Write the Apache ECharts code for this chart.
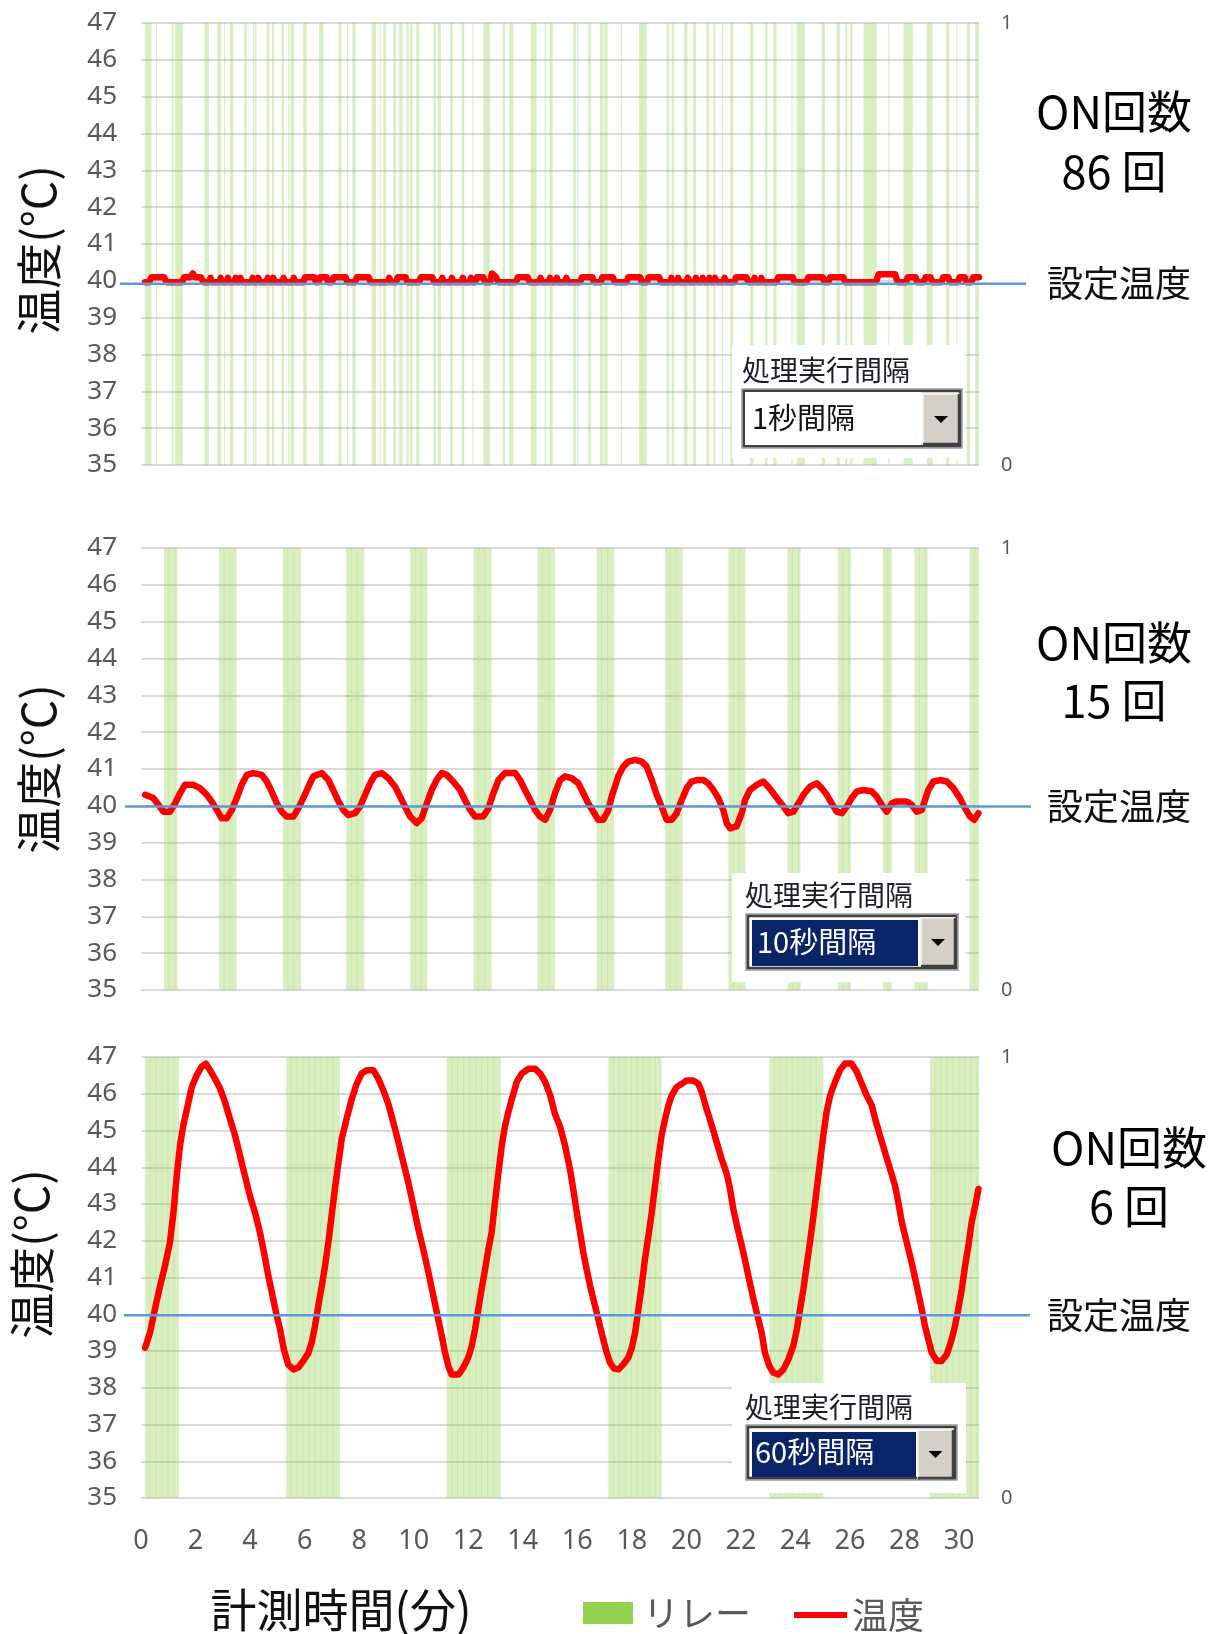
<!DOCTYPE html>
<html><head><meta charset="utf-8">
<script src="https://cdn.jsdelivr.net/npm/echarts@6/dist/echarts.min.js"></script>
<style>html,body{margin:0;padding:0;background:#fff}#c{width:1211px;height:1634px}</style>
</head><body><div id="c"></div>
<script>
// ---------------- DATA ----------------
const xTicks = [0,2,4,6,8,10,12,14,16,18,20,22,24,26,28,30];
const yTicks = [35,36,37,38,39,40,41,42,43,44,45,46,47];
const relayTicks = [0,1];
const xEnd = 30.73;
const onCounts = ['86','15','6'];
const intervalLabels = ['1秒間隔','10秒間隔','60秒間隔'];
const setLine = [39.92, 39.98, 39.97];

// relay ON periods [start min, end min]
const p1Relay = [[0.15,0.39],[1.12,1.19],[1.25,1.53],[2.32,2.49],[2.80,2.93],[3.26,3.39],[3.79,3.88],[4.10,4.16],[4.18,4.24],[4.61,4.71],[4.80,4.88],[5.16,5.24],[5.49,5.61],[5.95,6.08],[6.53,6.69],[7.24,7.36],[7.75,7.87],[8.46,8.62],[8.89,8.99],[9.25,9.35],[9.47,9.60],[9.74,9.82],[9.87,9.96],[10.09,10.20],[10.72,10.81],[10.88,11.00],[11.33,11.43],[11.76,11.85],[12.56,12.80],[13.26,13.35],[13.51,13.66],[14.29,14.51],[14.98,15.10],[15.85,15.95],[16.00,16.05],[16.40,16.50],[16.83,16.95],[16.99,17.11],[18.26,18.54],[19.28,19.37],[19.46,19.55],[19.91,20.04],[20.25,20.35],[20.74,20.83],[20.99,21.06],[21.60,21.72],[22.33,22.46],[22.88,22.97],[23.19,23.31],[24.04,24.35],[24.96,25.08],[25.51,25.63],[25.82,25.90],[26.00,26.09],[26.49,26.98],[27.96,28.30],[28.81,29.03],[29.52,29.64],[30.28,30.40],[30.59,30.73],
  [0.55,0.58],[3.05,3.08],[5.40,5.43],[7.55,7.58],[8.75,8.78],[12.15,12.18],[14.80,14.83],[17.60,17.63],[21.30,21.33],[23.85,23.88],[27.40,27.43],[29.90,29.93]];
const p2Relay = [[0.84,1.34],[2.86,3.51],[5.20,5.87],[7.52,8.19],[9.87,10.50],[12.20,12.86],[14.54,15.18],[16.71,17.35],[19.22,19.86],[21.54,22.17],[23.71,24.19],[25.55,26.03],[27.20,27.53],[28.36,28.85],[30.38,30.73]];
const p3Relay = [[0.15,1.39],[5.32,7.30],[11.21,13.20],[17.14,19.09],[23.04,25.02],[28.93,30.73]];

// temperature [min, °C]
const p1Temp = [[0.15,39.96],[0.3,39.96],[0.38,40.1],[0.85,40.1],[0.93,39.96],[1.5,39.96],[1.58,40.1],[1.82,40.1],[1.9,40.2],[1.98,40.1],[2.2,40.1],[2.28,39.96],[2.5,39.96],[2.55,40.08],[2.6,39.96],[2.87,39.96],[2.92,40.08],[2.97,39.96],[3.14,39.96],[3.19,40.08],[3.24,39.96],[3.42,39.96],[3.47,40.08],[3.52,39.96],[3.6,39.96],[3.65,40.08],[3.7,39.96],[4.05,39.96],[4.1,40.08],[4.15,39.96],[4.25,39.96],[4.3,40.08],[4.35,39.96],[4.6,39.96],[4.65,40.08],[4.7,39.96],[4.8,39.96],[4.85,40.08],[4.9,39.96],[5.18,39.96],[5.23,40.08],[5.28,39.96],[5.55,39.96],[5.6,40.08],[5.65,39.96],[5.95,39.96],[6.02,40.1],[6.35,40.1],[6.42,39.96],[6.5,39.96],[6.57,40.1],[6.8,40.1],[6.87,39.96],[7.0,39.96],[7.07,40.1],[7.5,40.1],[7.57,39.96],[7.85,39.96],[7.92,40.1],[8.35,40.1],[8.42,39.96],[9.05,39.96],[9.1,40.08],[9.17,39.96],[9.35,39.96],[9.42,40.1],[9.7,40.1],[9.77,39.96],[10.2,39.96],[10.27,40.1],[10.68,40.1],[10.75,39.96],[11.0,39.96],[11.05,40.08],[11.1,39.96],[11.35,39.96],[11.4,40.08],[11.45,39.96],[11.75,39.96],[11.8,40.08],[11.85,39.96],[12.05,39.96],[12.1,40.08],[12.15,39.96],[12.25,39.96],[12.32,40.1],[12.55,40.1],[12.62,39.96],[12.8,39.96],[12.87,40.2],[13.02,40.1],[13.1,39.96],[13.75,39.96],[13.82,40.1],[14.18,40.1],[14.25,39.96],[14.6,39.96],[14.65,40.08],[14.7,39.96],[14.95,39.96],[15.0,40.08],[15.05,39.96],[15.2,39.96],[15.25,40.08],[15.3,39.96],[15.55,39.96],[15.6,40.08],[15.65,39.96],[16.1,39.96],[16.17,40.1],[16.55,40.1],[16.62,39.96],[16.85,39.96],[16.92,40.1],[17.3,40.1],[17.37,39.96],[17.8,39.96],[17.87,40.1],[18.3,40.1],[18.37,39.96],[18.55,39.96],[18.62,40.1],[19.0,40.1],[19.07,39.96],[19.4,39.96],[19.45,40.08],[19.5,39.96],[19.65,39.96],[19.7,40.08],[19.75,39.96],[20.0,39.96],[20.05,40.08],[20.1,39.96],[20.3,39.96],[20.35,40.08],[20.4,39.96],[20.55,39.96],[20.6,40.08],[20.65,39.96],[20.8,39.96],[20.85,40.08],[20.9,39.96],[21.0,39.96],[21.05,40.08],[21.1,39.96],[21.35,39.96],[21.4,40.08],[21.45,39.96],[21.75,39.96],[21.82,40.1],[22.2,40.1],[22.27,39.96],[22.45,39.96],[22.5,40.08],[22.55,39.96],[22.7,39.96],[22.75,40.08],[22.8,39.96],[23.3,39.96],[23.37,40.1],[23.9,40.1],[23.97,39.96],[24.4,39.96],[24.47,40.1],[25.0,40.1],[25.07,39.96],[25.2,39.96],[25.27,40.1],[25.75,40.1],[25.82,39.96],[26.95,39.96],[27.05,40.18],[27.65,40.18],[27.75,39.96],[28.05,39.96],[28.12,40.1],[28.4,40.1],[28.47,39.96],[28.7,39.96],[28.77,40.1],[28.95,40.1],[29.02,39.96],[29.35,39.96],[29.42,40.1],[29.6,40.1],[29.67,39.96],[29.95,39.96],[30.02,40.1],[30.2,40.1],[30.27,39.96],[30.45,39.96],[30.52,40.1],[30.73,40.1]];

const p2Temp = [[0.15,40.30],[0.45,40.21],[0.64,40.03],[0.82,39.84],[1.06,39.84],[1.25,40.07],[1.43,40.34],[1.61,40.57],[1.92,40.57],[2.16,40.48],[2.41,40.30],[2.59,40.12],[2.78,39.89],[2.96,39.66],[3.14,39.66],[3.33,39.89],[3.51,40.21],[3.69,40.57],[3.88,40.84],[4.12,40.89],[4.43,40.84],[4.61,40.66],[4.79,40.39],[4.98,40.07],[5.16,39.84],[5.34,39.71],[5.59,39.71],[5.77,39.93],[5.95,40.21],[6.14,40.52],[6.32,40.80],[6.63,40.89],[6.87,40.70],[7.05,40.43],[7.24,40.12],[7.42,39.89],[7.60,39.75],[7.85,39.80],[8.03,39.98],[8.22,40.30],[8.40,40.61],[8.58,40.84],[8.83,40.89],[9.07,40.75],[9.32,40.52],[9.50,40.25],[9.68,39.98],[9.87,39.71],[10.11,39.53],[10.29,39.66],[10.48,40.07],[10.66,40.43],[10.84,40.70],[11.03,40.89],[11.21,40.84],[11.45,40.66],[11.70,40.43],[11.88,40.16],[12.07,39.89],[12.25,39.71],[12.55,39.71],[12.74,39.93],[12.92,40.34],[13.11,40.70],[13.35,40.89],[13.72,40.89],[13.90,40.70],[14.08,40.43],[14.27,40.16],[14.45,39.89],[14.63,39.71],[14.82,39.62],[15.00,39.89],[15.18,40.34],[15.37,40.70],[15.55,40.80],[15.79,40.75],[16.04,40.61],[16.22,40.34],[16.40,40.07],[16.59,39.84],[16.77,39.62],[16.95,39.62],[17.14,39.89],[17.26,40.25],[17.38,40.52],[17.50,40.80],[17.69,41.07],[17.87,41.20],[18.12,41.25],[18.36,41.20],[18.54,41.07],[18.73,40.70],[18.91,40.30],[19.09,39.98],[19.28,39.62],[19.46,39.62],[19.64,39.80],[19.83,40.16],[20.01,40.48],[20.19,40.66],[20.38,40.70],[20.62,40.70],[20.80,40.61],[20.99,40.43],[21.17,40.21],[21.35,39.89],[21.48,39.53],[21.60,39.39],[21.84,39.44],[22.03,39.80],[22.15,40.16],[22.33,40.43],[22.58,40.57],[22.82,40.66],[23.00,40.52],[23.19,40.34],[23.37,40.16],[23.56,39.98],[23.74,39.80],[23.92,39.84],[24.11,40.07],[24.29,40.30],[24.53,40.52],[24.78,40.61],[24.96,40.48],[25.15,40.30],[25.33,40.07],[25.51,39.84],[25.70,39.80],[25.88,39.98],[26.06,40.21],[26.25,40.39],[26.49,40.43],[26.80,40.39],[26.98,40.25],[27.16,40.03],[27.35,39.84],[27.53,40.07],[27.71,40.12],[28.08,40.12],[28.26,40.03],[28.45,39.84],[28.63,39.89],[28.75,40.16],[28.87,40.43],[29.06,40.66],[29.30,40.70],[29.55,40.66],[29.79,40.48],[30.03,40.21],[30.22,39.93],[30.40,39.71],[30.55,39.62],[30.71,39.80]];

const p3Temp = [[0.15,39.09],[0.33,39.5],[0.51,40.14],[0.70,40.77],[0.88,41.32],[1.06,41.95],[1.19,42.77],[1.31,43.77],[1.43,44.59],[1.55,45.13],[1.74,45.77],[1.86,46.18],[2.04,46.5],[2.22,46.73],[2.38,46.82],[2.53,46.64],[2.71,46.41],[2.90,46.14],[3.08,45.77],[3.26,45.32],[3.45,44.86],[3.63,44.32],[3.81,43.77],[3.99,43.23],[4.18,42.77],[4.36,42.23],[4.51,41.68],[4.67,41.04],[4.85,40.41],[4.98,39.95],[5.10,39.59],[5.24,39.04],[5.40,38.63],[5.59,38.5],[5.77,38.55],[5.95,38.73],[6.14,38.95],[6.26,39.23],[6.38,39.68],[6.50,40.22],[6.63,40.77],[6.75,41.32],[6.87,41.95],[6.99,42.68],[7.11,43.41],[7.24,44.13],[7.36,44.77],[7.54,45.32],[7.73,45.86],[7.91,46.27],[8.09,46.55],[8.28,46.64],[8.52,46.64],[8.70,46.41],[8.89,46.09],[9.07,45.72],[9.25,45.23],[9.44,44.68],[9.62,44.13],[9.80,43.59],[9.99,42.95],[10.17,42.32],[10.35,41.77],[10.54,41.14],[10.72,40.50],[10.90,39.86],[11.03,39.41],[11.15,38.95],[11.27,38.59],[11.39,38.36],[11.64,38.36],[11.82,38.55],[12.0,38.82],[12.13,39.14],[12.25,39.59],[12.37,40.14],[12.49,40.68],[12.62,41.23],[12.74,41.77],[12.86,42.23],[12.98,43.05],[13.11,43.86],[13.23,44.59],[13.35,45.13],[13.47,45.5],[13.60,45.86],[13.78,46.32],[13.96,46.55],[14.21,46.68],[14.45,46.68],[14.64,46.55],[14.82,46.32],[15.01,45.95],[15.18,45.45],[15.37,45.1],[15.55,44.59],[15.73,43.95],[15.85,43.41],[15.98,42.77],[16.10,42.23],[16.22,41.68],[16.34,41.23],[16.47,40.77],[16.59,40.41],[16.71,40.05],[16.83,39.68],[16.95,39.32],[17.08,38.95],[17.20,38.68],[17.35,38.52],[17.51,38.5],[17.69,38.64],[17.87,38.82],[18.0,39.09],[18.12,39.5],[18.24,40.14],[18.36,40.77],[18.48,41.5],[18.61,42.14],[18.73,42.77],[18.85,43.5],[18.97,44.23],[19.09,44.86],[19.22,45.32],[19.34,45.68],[19.46,45.95],[19.64,46.18],[19.83,46.27],[20.01,46.36],[20.25,46.36],[20.44,46.27],[20.56,46.05],[20.74,45.59],[20.93,45.14],[21.11,44.68],[21.29,44.23],[21.48,43.82],[21.6,43.41],[21.72,42.86],[21.91,42.23],[22.09,41.68],[22.27,41.05],[22.46,40.41],[22.64,39.86],[22.76,39.5],[22.88,38.95],[23.04,38.59],[23.19,38.41],[23.37,38.36],[23.56,38.5],[23.74,38.77],[23.92,39.14],[24.05,39.59],[24.17,40.14],[24.29,40.68],[24.41,41.32],[24.53,41.95],[24.66,42.68],[24.78,43.41],[24.9,44.13],[25.02,44.86],[25.14,45.5],[25.27,45.95],[25.45,46.32],[25.63,46.64],[25.82,46.82],[26.06,46.82],[26.25,46.59],[26.43,46.27],[26.61,45.95],[26.8,45.68],[26.92,45.32],[27.1,44.86],[27.28,44.41],[27.47,43.95],[27.65,43.5],[27.77,43.05],[27.9,42.5],[28.08,41.95],[28.26,41.41],[28.45,40.77],[28.63,40.14],[28.75,39.68],[28.87,39.32],[29.0,38.95],[29.18,38.73],[29.36,38.73],[29.55,38.91],[29.73,39.32],[29.85,39.68],[29.97,40.14],[30.1,40.68],[30.22,41.32],[30.34,41.86],[30.46,42.5],[30.59,42.95],[30.71,43.41]];

// ---------------- LAYOUT ----------------
const CJK = '"Noto Sans CJK JP", "Noto Sans", sans-serif';
const LAT = '"Noto Sans", "Open Sans", sans-serif';
const gridTops = [23, 548, 1057];
const gridH = [442, 442, 441];
const relays = [p1Relay, p2Relay, p3Relay];
const temps = [p1Temp, p2Temp, p3Temp];

const chart = echarts.init(document.getElementById('c'), null, {renderer: 'canvas'});

const grids = [], xAxes = [], yAxes = [], series = [];
for (let i = 0; i < 3; i++) {
  grids.push({left: 141, width: 838, top: gridTops[i], height: gridH[i], containLabel: false});
  xAxes.push({
    type: 'value', gridIndex: i, min: xTicks[0], max: xEnd,
    axisLine: {show: false}, axisTick: {show: false}, splitLine: {show: false},
    axisLabel: {show: i === 2, customValues: xTicks, fontSize: 27, color: '#595959', fontFamily: LAT, margin: 30}
  });
  yAxes.push({
    type: 'value', gridIndex: i, min: yTicks[0], max: yTicks[yTicks.length - 1], interval: yTicks[1] - yTicks[0],
    axisLine: {show: false}, axisTick: {show: false},
    axisLabel: {fontSize: 26, color: '#595959', fontFamily: LAT, margin: 24},
    splitLine: {lineStyle: {color: '#d9d9d9', width: 2}}
  });
  yAxes.push({
    type: 'value', gridIndex: i, position: 'right', min: relayTicks[0], max: relayTicks[1], interval: relayTicks[1] - relayTicks[0],
    axisLine: {show: false}, axisTick: {show: false}, splitLine: {show: false},
    axisLabel: {fontSize: 20, color: '#595959', fontFamily: LAT, margin: 22}
  });
  const textured = i > 0;
  series.push({
    type: 'custom', name: 'リレー', xAxisIndex: i, yAxisIndex: 2 * i + 1,
    itemStyle: {color: '#92d050'}, clip: true, z: 1,
    encode: {x: [0, 1]},
    data: relays[i],
    renderItem: function (params, api) {
      const p0 = api.coord([api.value(0), relayTicks[1]]);
      const p1 = api.coord([api.value(1), relayTicks[0]]);
      const w = Math.max(p1[0] - p0[0], 1.2);
      const children = [{type: 'rect', shape: {x: p0[0], y: p0[1], width: w, height: p1[1] - p0[1]},
        style: {fill: 'rgba(146,208,80,0.35)'}}];
      if (textured) {
        for (let x = p0[0] + 5; x < p0[0] + w - 2; x += 6) {
          children.push({type: 'line', shape: {x1: x, y1: p0[1], x2: x, y2: p1[1]},
            style: {stroke: 'rgba(146,208,80,0.22)', lineWidth: 1}});
        }
      }
      return {type: 'group', children: children};
    }
  });
  series.push({
    type: 'line', name: '温度', xAxisIndex: i, yAxisIndex: 2 * i, data: temps[i],
    symbol: 'none', smooth: false, z: 5,
    lineStyle: {color: '#ff0000', width: 6.5, join: 'round', cap: 'round'},
    itemStyle: {color: '#ff0000'}
  });
}

chart.setOption({
  animation: false,
  backgroundColor: '#ffffff',
  grid: grids, xAxis: xAxes, yAxis: yAxes, series: series,
  legend: [
    {data: [{name: 'リレー', icon: 'rect'}], left: 578, top: 1590, itemWidth: 50, itemHeight: 22,
     textStyle: {fontSize: 36, color: '#595959', fontFamily: CJK, padding: [0, 0, 0, 5]}, selectedMode: false},
    {data: [{name: '温度', icon: 'rect'}], left: 789, top: 1590, itemWidth: 53, itemHeight: 6,
     textStyle: {fontSize: 36, color: '#595959', fontFamily: CJK, lineHeight: 40}, selectedMode: false}
  ]
});

// ---------------- OVERLAY (shapes drawn on the chart) ----------------
const blueX = [[120, 1026], [125, 1031], [124, 1030]];
const boxes = [
  {box: [732, 345, 965, 458], label: [742, 370], outer: [742, 389, 962, 448], field: [745, 392, 921, 445], btn: [923, 394, 959, 444], fieldFill: '#ffffff', textColor: '#111111', text: [752, 418]},
  {box: [732, 873, 965, 982], label: [745, 895], outer: [746, 914, 958, 970], field: [752, 920, 918, 966], btn: [921, 918, 955, 966], fieldFill: '#0a246a', textColor: '#ffffff', text: [757, 942]},
  {box: [732, 1383, 966, 1493], label: [745, 1407], outer: [746, 1425, 957, 1480], field: [752, 1432, 916, 1477], btn: [918, 1430, 953, 1478], fieldFill: '#0a246a', textColor: '#ffffff', text: [755, 1452]}
];
const onPos = [[1114, 112, 172], [1114, 643, 701], [1129, 1148, 1207]];
const yTitleY = [250, 769, 1254];
const yTitleX = [39, 39, 32];

const g = [];
for (let i = 0; i < 3; i++) {
  const y = chart.convertToPixel({yAxisIndex: 2 * i}, setLine[i]);
  g.push({type: 'line', z: 120, shape: {x1: blueX[i][0], y1: y, x2: blueX[i][1], y2: y},
    style: {stroke: '#5b9bd5', lineWidth: 2.5}});
  g.push({type: 'text', z: 120, x: 1047, y: y, style: {text: '設定温度', fontSize: 36, fontFamily: CJK, fill: '#111', align: 'left', verticalAlign: 'middle'}});
  const b = boxes[i];
  g.push({type: 'rect', z: 110, shape: {x: b.box[0], y: b.box[1], width: b.box[2] - b.box[0], height: b.box[3] - b.box[1]}, style: {fill: '#ffffff'}});
  g.push({type: 'text', z: 115, x: b.label[0], y: b.label[1], style: {text: '処理実行間隔', fontSize: 28, fontFamily: CJK, fill: '#1e1e2a', align: 'left', verticalAlign: 'middle'}});
  g.push({type: 'rect', z: 115, shape: {x: b.outer[0], y: b.outer[1], width: b.outer[2] - b.outer[0], height: b.outer[3] - b.outer[1]}, style: {fill: '#ffffff', stroke: '#9a9a9a', lineWidth: 1.5}});
  g.push({type: 'rect', z: 116, shape: {x: b.outer[0] + 2, y: b.outer[1] + 2, width: b.outer[2] - b.outer[0] - 4, height: b.outer[3] - b.outer[1] - 4}, style: {fill: '#ffffff', stroke: '#404040', lineWidth: 2.5}});
  g.push({type: 'rect', z: 117, shape: {x: b.field[0], y: b.field[1], width: b.field[2] - b.field[0], height: b.field[3] - b.field[1]}, style: {fill: b.fieldFill}});
  g.push({type: 'rect', z: 117, shape: {x: b.btn[0], y: b.btn[1], width: b.btn[2] - b.btn[0], height: b.btn[3] - b.btn[1]}, style: {fill: '#d4d0c8', stroke: '#f4f4f4', lineWidth: 1.5}});
  g.push({type: 'polyline', z: 118, shape: {points: [[b.btn[0], b.btn[3]], [b.btn[2], b.btn[3]], [b.btn[2], b.btn[1]]]}, style: {stroke: '#404040', lineWidth: 2.5, fill: null}});
  const cx = (b.btn[0] + b.btn[2]) / 2, cy = (b.btn[1] + b.btn[3]) / 2;
  g.push({type: 'polygon', z: 119, shape: {points: [[cx - 7, cy - 3], [cx + 7, cy - 3], [cx, cy + 4]]}, style: {fill: '#000'}});
  g.push({type: 'text', z: 119, x: b.text[0], y: b.text[1], style: {text: intervalLabels[i], fontSize: 29, fontFamily: CJK, fill: b.textColor, align: 'left', verticalAlign: 'middle'}});
  g.push({type: 'text', z: 120, x: onPos[i][0], y: onPos[i][1], style: {text: 'ON回数', fontSize: 45, fontFamily: CJK, fill: '#000', align: 'center', verticalAlign: 'middle'}});
  g.push({type: 'text', z: 120, x: onPos[i][0], y: onPos[i][2], style: {text: onCounts[i] + ' 回', fontSize: 45, fontFamily: CJK, fill: '#000', align: 'center', verticalAlign: 'middle'}});
  g.push({type: 'text', z: 120, x: yTitleX[i], y: yTitleY[i], rotation: Math.PI / 2, style: {text: '温度(°C)', fontSize: 46, fontFamily: CJK, fill: '#111', align: 'center', verticalAlign: 'middle'}});
}
g.push({type: 'text', z: 120, x: 341, y: 1610, style: {text: '計測時間(分)', fontSize: 46, fontFamily: CJK, fill: '#111', align: 'center', verticalAlign: 'middle'}});

chart.setOption({graphic: g});
</script>
</body></html>
